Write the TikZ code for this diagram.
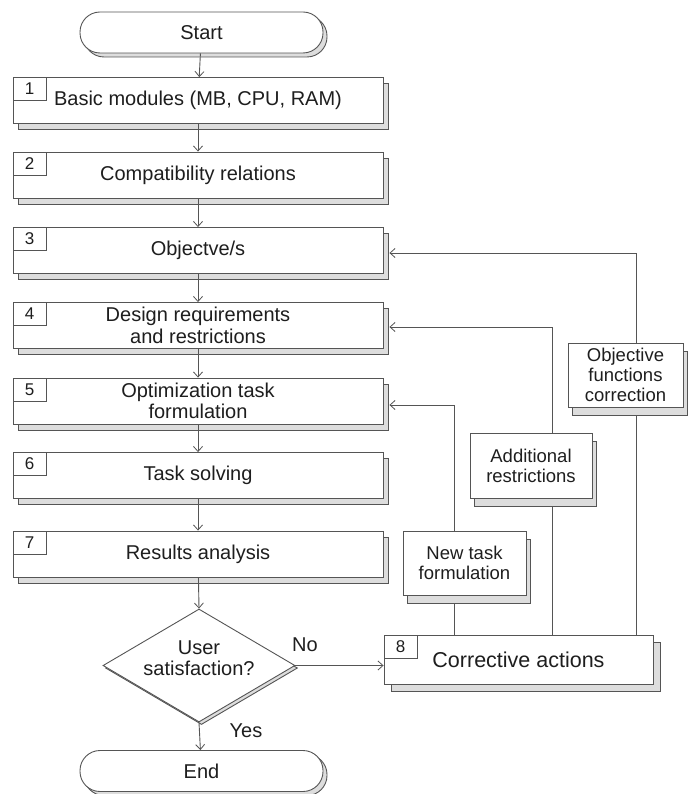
\documentclass[tikz,border=0pt]{standalone}
\usepackage{fontspec}
\setmainfont{Liberation Sans}
\usetikzlibrary{shadows,shapes.geometric,arrows.meta}
\definecolor{lncol}{HTML}{555555}
\definecolor{shcol}{HTML}{DDDDDD}
\definecolor{txcol}{HTML}{1E1E1E}
\begin{document}
\begin{tikzpicture}[x=1pt,y=-1pt,
  font=\fontsize{20}{21.5}\selectfont, text=txcol,
  base/.style={draw=lncol, line width=0.9pt, fill=white, inner sep=0pt, align=center},
  mainbox/.style={base, rectangle, minimum width=370pt, minimum height=46pt,
     copy shadow={shadow xshift=5pt, shadow yshift=-6pt, fill=shcol, draw=lncol, line width=0.9pt}},
  numbox/.style={draw=lncol, line width=0.9pt, fill=white, minimum width=33pt, minimum height=23pt,
     inner sep=0pt, anchor=north west, font=\fontsize{17}{20}\selectfont},
  term/.style={base, rounded corners=20pt, minimum width=243pt, minimum height=41pt,
     copy shadow={shadow xshift=4pt, shadow yshift=-4pt, fill=shcol, draw=lncol, line width=0.9pt}},
  side/.style={base, font=\fontsize{18.5}{20}\selectfont,
     copy shadow={shadow xshift=4pt, shadow yshift=-8pt, fill=shcol, draw=lncol, line width=0.9pt}},
  arr/.style={draw=lncol, line width=0.9pt, -{Straight Barb[length=5pt,width=9pt,line width=0.8pt]}},
  fb/.style={draw=lncol, line width=0.9pt}
]
\useasboundingbox (0,0) rectangle (688,794);

% terminals
\node[term] (start) at (201.5,32.5) {Start};
\node[term] (end) at (201.5,771) {End};

% main boxes
\node[mainbox] (b1) at (198,100.5) {Basic modules (MB, CPU, RAM)};
\node[mainbox] (b2) at (198,175) {Compatibility relations};
\node[mainbox] (b3) at (198,250.5) {Objectve/s};
\node[mainbox] (b4) at (198,325.5) {Design requirements\\and restrictions};
\node[mainbox] (b5) at (198,401) {Optimization task\\formulation};
\node[mainbox] (b6) at (198,475.5) {Task solving};
\node[mainbox] (b7) at (198,554) {Results analysis};

\node[numbox] (n1) at (b1.north west) {1};
\node[numbox] (n2) at (b2.north west) {2};
\node[numbox] (n3) at (b3.north west) {3};
\node[numbox] (n4) at (b4.north west) {4};
\node[numbox] (n5) at (b5.north west) {5};
\node[numbox] (n6) at (b6.north west) {6};
\node[numbox] (n7) at (b7.north west) {7};

% decision
\node[draw=lncol, line width=0.9pt, fill=white, diamond, minimum width=192pt, minimum height=113pt,
      inner sep=0pt, copy shadow={shadow xshift=2.5pt, shadow yshift=-2.5pt, fill=shcol, draw=lncol, line width=0.9pt}]
      (dec) at (199,665.5) {};
\node[align=center, inner sep=0pt] (dectext) at (199,658) {User\\satisfaction?};

% corrective actions
\node[base, minimum width=269pt, minimum height=49pt, font=\fontsize{21.5}{24}\selectfont,
      copy shadow={shadow xshift=7pt, shadow yshift=-7pt, fill=shcol, draw=lncol, line width=0.9pt}]
      (b8) at (518.5,659.5) {Corrective actions};
\node[numbox] (n8) at (b8.north west) {8};

% labels
\node[inner sep=0pt] (no) at (305,645) {No};
\node[inner sep=0pt] (yes) at (246,731) {Yes};

% main flow arrows
\draw[arr] (start) -- (b1);
\draw[arr] (b1) -- (b2);
\draw[arr] (b2) -- (b3);
\draw[arr] (b3) -- (b4);
\draw[arr] (b4) -- (b5);
\draw[arr] (b5) -- (b6);
\draw[arr] (b6) -- (b7);
\draw[arr] (b7) -- (dec.north);
\draw[arr] (dec.south) -- (end);
\draw[arr] (dec.east) -- (dec.east -| b8.west);

% feedback lines
\coordinate (f5) at (454,405);
\coordinate (f4) at (552,327);
\coordinate (f3) at (636,253);
\draw[arr] (b8.north -| f5) -- (f5) -- ([xshift=6pt]b5.east |- f5);
\draw[arr] (b8.north -| f4) -- (f4) -- ([xshift=6pt]b4.east |- f4);
\draw[arr] (b8.north -| f3) -- (f3) -- ([xshift=6pt]b3.east |- f3);

% side boxes (over the lines)
\node[side, minimum width=115pt, minimum height=64pt] (ofc) at (625.5,375) {Objective\\functions\\correction};
\node[side, minimum width=122pt, minimum height=65pt] (ar) at (531,465.5) {Additional\\restrictions};
\node[side, minimum width=123pt, minimum height=64pt] (ntf) at (464.5,563) {New task\\formulation};
\end{tikzpicture}
\end{document}
